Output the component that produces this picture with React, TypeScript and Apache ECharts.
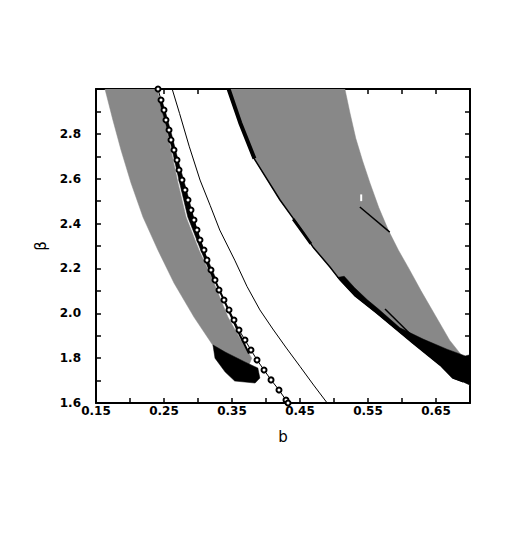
import React, { useEffect, useRef } from "react";
import * as echarts from "echarts";

type P = [number, number];

const xTickLabels = ["0.15", "0.25", "0.35", "0.45", "0.55", "0.65"];
const yTickLabels = ["1.6", "1.8", "2.0", "2.2", "2.4", "2.6", "2.8"];

// left grey region (outline, b vs beta)
const leftBand: P[] = [
  [0.1632, 3.0], [0.175, 2.86], [0.1868, 2.728], [0.2015, 2.581], [0.2191, 2.429],
  [0.241, 2.282], [0.2647, 2.135], [0.2941, 1.983], [0.3235, 1.85], [0.345, 1.82],
  [0.375, 1.77], [0.379, 1.8], [0.365, 1.87], [0.344, 1.983], [0.3235, 2.135],
  [0.3015, 2.282], [0.2824, 2.429], [0.2706, 2.581], [0.2603, 2.728], [0.25, 2.87],
  [0.24, 3.0],
];

// black blob at the foot of the left region
const leftBlob: P[] = [
  [0.322, 1.859], [0.34, 1.827], [0.369, 1.783], [0.388, 1.756], [0.391, 1.711],
  [0.384, 1.689], [0.354, 1.698], [0.34, 1.738], [0.325, 1.8],
];

// black scatter along the right edge of the left region
const leftEdgeBlack: P[] = [
  [0.243, 2.95], [0.252, 2.85], [0.262, 2.728], [0.273, 2.581], [0.285, 2.429],
  [0.304, 2.282], [0.322, 2.15], [0.327, 2.15], [0.31, 2.27], [0.296, 2.4],
  [0.283, 2.55], [0.271, 2.68], [0.261, 2.8], [0.252, 2.9], [0.247, 2.95],
];
const leftEdgeBlackLow: P[] = [
  [0.326, 2.14], [0.338, 2.06], [0.35, 1.98], [0.362, 1.9], [0.375, 1.82],
];

// right grey region
const rightBand: P[] = [
  [0.344, 3.0], [0.362, 2.85], [0.381, 2.697], [0.4206, 2.505], [0.4456, 2.4],
  [0.469, 2.296], [0.494, 2.206], [0.509, 2.148], [0.53, 2.08], [0.563, 2.0],
  [0.616, 1.867], [0.656, 1.769], [0.675, 1.711], [0.69, 1.694], [0.7, 1.68],
  [0.7, 1.756], [0.693, 1.792], [0.67, 1.88], [0.649, 1.99], [0.628, 2.1],
  [0.61, 2.2], [0.595, 2.28], [0.58, 2.37], [0.566, 2.47], [0.553, 2.58],
  [0.542, 2.68], [0.532, 2.78], [0.5235, 2.893], [0.516, 3.0],
];

// black edge of the right region
const rightEdge: P[] = [
  [0.344, 3.0], [0.362, 2.85], [0.381, 2.697], [0.4206, 2.505], [0.4456, 2.4],
  [0.469, 2.296], [0.494, 2.206], [0.509, 2.148], [0.53, 2.08], [0.563, 2.0],
  [0.616, 1.867], [0.656, 1.769], [0.675, 1.711], [0.69, 1.694],
];
const rightEdgeThick: P[] = [[0.345, 3.0], [0.362, 2.85], [0.383, 2.69]];
const rightEdgeMid: P[] = [[0.44, 2.42], [0.452, 2.37], [0.466, 2.31]];

const rightBlack: P[] = [
  [0.505, 2.16], [0.515, 2.165], [0.53, 2.115], [0.549, 2.06], [0.565, 2.02],
  [0.597, 1.935], [0.631, 1.885], [0.666, 1.84], [0.693, 1.81], [0.7, 1.815],
  [0.7, 1.68], [0.69, 1.694], [0.675, 1.711], [0.656, 1.769], [0.616, 1.867],
  [0.563, 2.0], [0.53, 2.08], [0.509, 2.148],
];

const innerLine1: P[] = [[0.575, 2.019], [0.624, 1.872]];
const innerLine2: P[] = [[0.538, 2.474], [0.582, 2.362]];
const whiteMark: P[] = [[0.54, 2.53], [0.54, 2.5]];

// curve with open circle markers
const markerB = [
  0.2412, 0.2456, 0.25, 0.2529, 0.2574, 0.2603, 0.2647, 0.2691, 0.2721, 0.2765,
  0.2809, 0.2853, 0.2897, 0.2941, 0.2985, 0.3029, 0.3088, 0.3132, 0.3191, 0.325,
  0.3309, 0.3382, 0.3456, 0.3529, 0.3603, 0.3691, 0.3779, 0.3868, 0.3971, 0.4074,
  0.4191, 0.4294, 0.4324,
];
const markerBeta = [
  3.0, 2.951, 2.906, 2.862, 2.817, 2.773, 2.728, 2.683, 2.639, 2.594,
  2.55, 2.505, 2.46, 2.416, 2.371, 2.327, 2.282, 2.237, 2.193, 2.148,
  2.104, 2.059, 2.015, 1.97, 1.925, 1.881, 1.836, 1.792, 1.747, 1.703,
  1.658, 1.613, 1.6,
];

// plain solid curve
const solidCurve: P[] = [
  [0.262, 3.0], [0.273, 2.89], [0.287, 2.745], [0.303, 2.594], [0.318, 2.48],
  [0.332, 2.371], [0.354, 2.237], [0.372, 2.12], [0.391, 2.015], [0.41, 1.93],
  [0.43, 1.845], [0.45, 1.763], [0.47, 1.68], [0.49, 1.6],
];

const GREY = "#888888";
const FONT = "DejaVu Sans";

function polySeries(points: P[], color: string, z: number) {
  return {
    type: "custom",
    silent: true,
    clip: true,
    z,
    data: [points[0]],
    renderItem: (_params: any, api: any) => {
      const pts = points.map((p) => api.coord(p));
      return {
        type: "polygon",
        shape: { points: pts },
        style: { fill: color, stroke: color, lineWidth: 0.5 },
      };
    },
  };
}

function lineSeries(points: P[], color: string, width: number, z: number) {
  return {
    type: "line",
    data: points,
    symbol: "none",
    silent: true,
    z,
    lineStyle: { color, width },
  };
}

export default function App() {
  const ref = useRef<HTMLDivElement>(null);
  useEffect(() => {
    const chart = echarts.init(ref.current!, undefined, { renderer: "svg" });
    const axisLine = { show: true, onZero: false, lineStyle: { color: "#000", width: 2 } };
    const axisTick = { show: true, inside: true, length: 5, lineStyle: { color: "#000", width: 1.5 } };
    const xBase = { type: "value", min: 0.15, max: 0.7, interval: 0.05, splitLine: { show: false } };
    const yBase = { type: "value", min: 1.6, max: 3.0, interval: 0.1, splitLine: { show: false } };
    chart.setOption({
      animation: false,
      backgroundColor: "#fff",
      grid: { left: 96, right: 46, top: 89, bottom: 153, containLabel: false },
      xAxis: [
        {
          ...xBase,
          position: "bottom",
          name: "b",
          nameLocation: "middle",
          nameGap: 26,
          nameTextStyle: { fontFamily: FONT, fontSize: 15, color: "#000" },
          axisLine,
          axisTick,
          axisLabel: {
            margin: 2,
            fontFamily: FONT,
            fontSize: 12,
            fontWeight: "bold",
            color: "#000",
            hideOverlap: false,
            formatter: (v: number) => {
              const s = v.toFixed(2);
              return xTickLabels.includes(s) ? s : "";
            },
          },
        },
        { ...xBase, position: "top", axisLine, axisTick, axisLabel: { show: false } },
      ],
      yAxis: [
        {
          ...yBase,
          position: "left",
          name: "β",
          nameLocation: "middle",
          nameRotate: 90,
          nameGap: 33,
          nameTextStyle: { fontFamily: FONT, fontSize: 15, color: "#000" },
          axisLine,
          axisTick,
          axisLabel: {
            margin: 15,
            fontFamily: FONT,
            fontSize: 12,
            fontWeight: "bold",
            color: "#000",
            hideOverlap: false,
            formatter: (v: number) => {
              const s = v.toFixed(1);
              return yTickLabels.includes(s) ? s : "";
            },
          },
        },
        { ...yBase, position: "right", axisLine, axisTick, axisLabel: { show: false } },
      ],
      series: [
        polySeries(leftBand, GREY, 1),
        polySeries(rightBand, GREY, 1),
        polySeries(leftBlob, "#000", 2),
        polySeries(rightBlack, "#000", 2),
        polySeries(leftEdgeBlack, "#000", 2),
        lineSeries(leftEdgeBlackLow, "#000", 2, 3),
        lineSeries(rightEdge, "#000", 1.5, 3),
        lineSeries(rightEdgeThick, "#000", 4, 3),
        lineSeries(rightEdgeMid, "#000", 3, 3),
        lineSeries(innerLine1, "#000", 1.5, 3),
        lineSeries(innerLine2, "#000", 1.5, 3),
        lineSeries(whiteMark, "#fff", 2, 3),
        lineSeries(solidCurve, "#000", 1, 4),
        {
          type: "line",
          data: markerB.map((b, i) => [b, markerBeta[i]]),
          symbol: "emptyCircle",
          symbolSize: 5,
          showSymbol: true,
          silent: true,
          z: 5,
          itemStyle: { color: "#000", borderColor: "#000", borderWidth: 1 },
          lineStyle: { color: "#000", width: 1 },
        },
      ],
    });
    return () => chart.dispose();
  }, []);
  return (
    <div
      ref={ref}
      style={{ position: "fixed", left: 0, top: 0, width: 516, height: 556, background: "#fff" }}
    />
  );
}
